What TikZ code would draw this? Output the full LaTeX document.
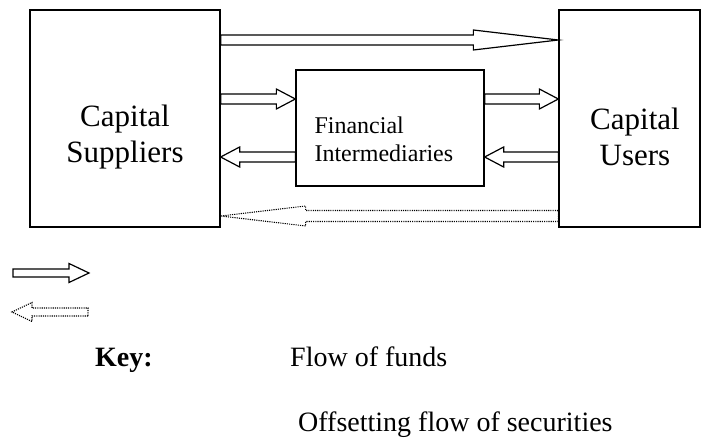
\documentclass[tikz,border=0pt]{standalone}
\usepackage{fontspec}
\setmainfont{Liberation Serif}
\usetikzlibrary{calc,positioning}

\begin{document}
\begin{tikzpicture}[x=1pt,y=-1pt,
		box/.style={draw, line width=1.3pt, inner sep=0pt},
		big/.style={font=\fontsize{31}{36}\selectfont, align=center, inner sep=0pt},
		small/.style={font=\fontsize{24}{28}\selectfont, align=left, inner sep=0pt},
		keytext/.style={font=\fontsize{28}{32}\selectfont, inner sep=0pt, anchor=base west},
		flow shaft/.store in=\flowshaft, flow shaft=5,
		flow head/.store in=\flowhead, flow head=10,
		flow/.style={line width=1.2pt, to path={
			($(\tikztostart)+(0,\flowshaft)$)
			-- ($(\tikztotarget)!#1!(\tikztostart)+(0,\flowshaft)$)
			-- ($(\tikztotarget)!#1!(\tikztostart)+(0,\flowhead)$)
			-- (\tikztotarget)
			-- ($(\tikztotarget)!#1!(\tikztostart)+(0,-\flowhead)$)
			-- ($(\tikztotarget)!#1!(\tikztostart)+(0,-\flowshaft)$)
			-- ($(\tikztostart)+(0,-\flowshaft)$) -- cycle}},
		flow/.default=19pt,
		securities/.style={flow=#1, line width=1.1pt, dash pattern=on 1.1pt off 1.1pt}
		]
		\useasboundingbox (0,0) rectangle (724,438);
		
		\node [box, minimum width=190, minimum height=217] (sup) at (125,118.5) {};
		\node [box, minimum width=141, minimum height=217] (usr) at (629.5,118.5) {};
		\node [box, minimum width=188, minimum height=116] (fin) at (390,128) {};
		
		\node [big] (suptext) at (125,137) {Capital\\Suppliers};
		\node [big] (usrtext) at (635,137) {Capital\\Users};
		\node [small, anchor=west] (fintext) at ($(fin.west)+(19,11)$) {Financial\\Intermediaries};
		
		% funds go right, securities come back
		\draw [flow=85pt] (sup.east |- 0,40) to (usr.west |- 0,40);
		\draw [flow] (sup.east |- 0,99) to (fin.west |- 0,99);
		\draw [flow] (fin.west |- 0,157) to (sup.east |- 0,157);
		\draw [flow] (fin.east |- 0,99) to (usr.west |- 0,99);
		\draw [flow] (usr.west |- 0,157) to (fin.east |- 0,157);
		\draw [securities=85pt, flow shaft=5.5] (usr.west |- 0,216) to (sup.east |- 0,216);
		
		% key
		\coordinate (k1a) at (13,273);
		\coordinate (k1b) at (89,273);
		\coordinate (k2a) at (88,312);
		\coordinate (k2b) at (12,312);
		\draw [flow=20pt, flow shaft=4, flow head=9.5] (k1a) to (k1b);
		\draw [securities=20pt, flow shaft=4, flow head=9.5] (k2a) to (k2b);
		
		\node [keytext] (keylbl) at (95,367) {\bfseries Key:};
		\node [keytext] (fundlbl) at (290,367) {Flow of funds};
		\node [keytext] (seclbl) at (298,432) {Offsetting flow of securities};
		\end{tikzpicture}
\end{document}
